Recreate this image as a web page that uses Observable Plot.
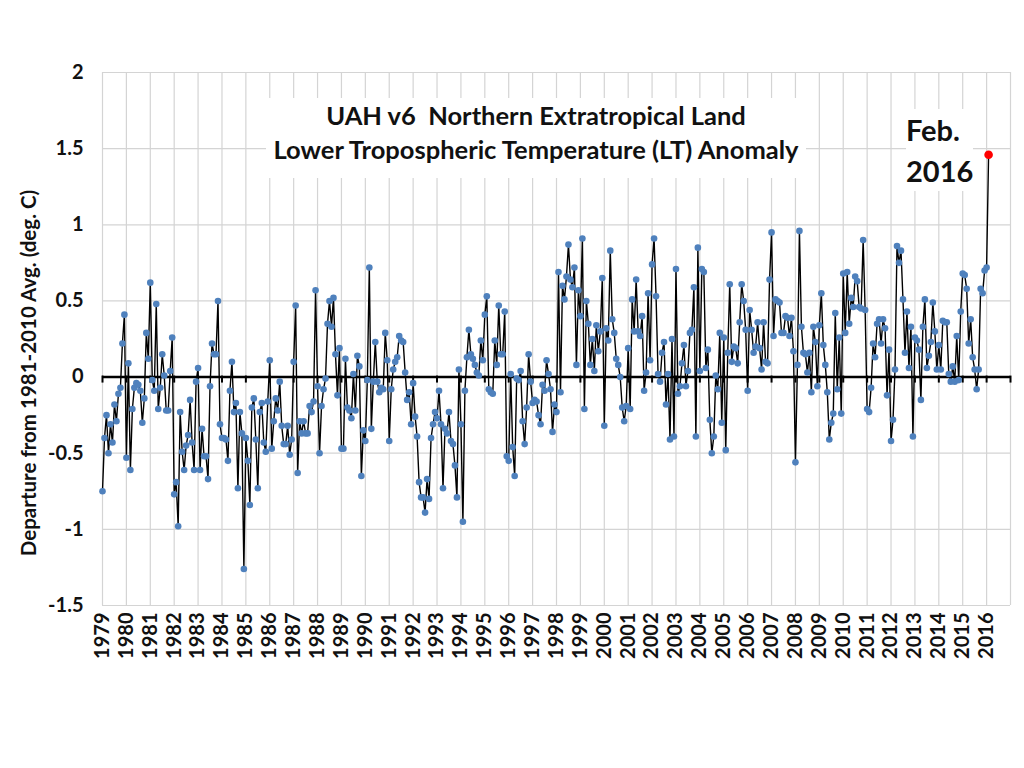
<!DOCTYPE html>
<html>
<head>
<meta charset="utf-8">
<script src="https://cdn.jsdelivr.net/npm/d3@7"></script>
<script src="https://cdn.jsdelivr.net/npm/@observablehq/plot@0.6"></script>
<style>
  html, body { margin: 0; padding: 0; background: #fff; }
  #wrap { position: relative; width: 1024px; height: 768px; overflow: hidden; font-family: Lato, "Open Sans", sans-serif; }
  #wrap svg { position: absolute; left: 0; top: 0; }
  .title { position: absolute; left: 266px; top: 98px; width: 540px; height: 80px; background: #fff;
           text-align: center; font-weight: 700; font-size: 25.5px; line-height: 34px; color: #111; }
  .note { position: absolute; left: 906px; top: 109px; background: #fff; font-weight: 700; font-size: 29px;
          line-height: 41px; color: #111; }
  .ylab { position: absolute; left: 28px; top: 373px; transform: translate(-50%, -50%) rotate(-90deg);
          white-space: nowrap; font-weight: 700; font-size: 20.5px; color: #111; }
</style>
</head>
<body>
<div id="wrap"></div>
<script>
// Monthly anomalies (deg. C), Jan 1979 .. Feb 2016
const anom1979_1984 = [
  -0.75, -0.40, -0.25, -0.50, -0.31, -0.43, -0.18, -0.29, -0.11, -0.07, 0.22, 0.41,
  -0.53, 0.09, -0.61, -0.21, -0.07, -0.04, -0.05, -0.09, -0.30, -0.14, 0.29, 0.12,
  0.62, -0.02, -0.09, 0.48, -0.21, -0.07, 0.15, 0.01, -0.22, -0.22, 0.04, 0.26,
  -0.77, -0.69, -0.98, -0.23, -0.49, -0.61, -0.45, -0.38, -0.15, -0.43, -0.61, -0.03,
  0.06, -0.61, -0.34, -0.52, -0.52, -0.67, -0.06, 0.22, 0.15, 0.15, 0.50, -0.31,
  -0.40, -0.40, -0.41, -0.55, -0.09, 0.10, -0.23, -0.17, -0.73, -0.23, -0.37, -1.26
];
const anom1985_1990 = [
  -0.40, -0.55, -0.84, -0.20, -0.14, -0.41, -0.73, -0.23, -0.17, -0.43, -0.49, -0.16,
  0.11, -0.47, -0.29, -0.14, -0.22, -0.03, -0.32, -0.44, -0.44, -0.32, -0.51, -0.41,
  0.10, 0.47, -0.63, -0.29, -0.37, -0.29, -0.37, -0.37, -0.19, -0.23, -0.16, 0.57,
  -0.06, -0.50, -0.19, -0.08, -0.01, 0.35, 0.50, 0.33, 0.52, 0.15, -0.12, 0.19,
  -0.47, -0.47, 0.12, -0.20, -0.22, -0.27, 0.02, -0.22, 0.14, 0.07, -0.65, -0.35,
  -0.42, -0.02, 0.72, -0.34, -0.03, 0.23, -0.03, -0.10, -0.07, -0.08, 0.29, 0.11
];
const anom1991_1997 = [
  -0.42, -0.08, 0.05, 0.10, 0.13, 0.27, 0.24, 0.23, 0.03, -0.15, -0.10, -0.31,
  -0.04, -0.26, -0.39, -0.69, -0.79, -0.79, -0.89, -0.67, -0.80, -0.40, -0.31, -0.23,
  -0.27, -0.09, -0.31, -0.73, -0.34, -0.37, -0.23, -0.42, -0.44, -0.58, -0.79, 0.05,
  -0.31, -0.95, -0.09, 0.13, 0.31, 0.15, 0.12, 0.08, 0.03, 0.01, 0.24, 0.11,
  0.41, 0.53, -0.08, -0.10, -0.11, 0.24, 0.08, 0.47, 0.15, 0.15, 0.43, -0.52,
  -0.55, 0.02, -0.46, -0.65, -0.01, -0.02, 0.04, -0.29, -0.44, -0.20, 0.15, -0.03,
  -0.17, -0.15, -0.16, -0.25, -0.31, -0.05, -0.09, 0.11, 0.02, -0.08, -0.36, -0.18
];
const anom1998_2004 = [
  -0.23, 0.69, -0.10, 0.60, 0.51, 0.66, 0.87, 0.64, 0.59, 0.72, 0.08, 0.57,
  0.40, 0.91, -0.21, 0.50, 0.35, 0.08, 0.25, 0.04, 0.34, 0.17, 0.30, 0.65,
  -0.32, 0.32, 0.24, 0.83, 0.38, 0.29, 0.12, 0.08, 0.00, -0.20, -0.29, -0.19,
  0.19, -0.21, 0.51, 0.30, 0.64, 0.30, 0.27, 0.40, -0.09, 0.03, 0.55, 0.11,
  0.74, 0.91, 0.53, 0.02, -0.03, 0.16, 0.23, -0.18, 0.02, -0.41, 0.25, -0.39,
  0.71, -0.11, -0.06, 0.09, 0.21, -0.06, 0.04, 0.29, 0.31, 0.59, -0.39, 0.85,
  0.04, 0.71, 0.69, 0.06, 0.18, -0.28, -0.50, -0.39, 0.01, -0.08, 0.29, -0.30
];
const anom2005_2010 = [
  0.26, -0.48, 0.16, 0.61, 0.10, 0.20, 0.19, 0.09, 0.36, 0.61, 0.50, 0.31,
  -0.09, 0.44, 0.31, 0.16, 0.20, 0.36, 0.19, 0.05, 0.36, 0.10, 0.09, 0.64,
  0.95, 0.27, 0.51, 0.50, 0.49, 0.29, 0.29, 0.40, 0.39, 0.27, 0.39, 0.17,
  -0.56, 0.08, 0.96, 0.33, 0.16, 0.15, 0.03, 0.16, -0.10, 0.33, 0.23, -0.06,
  0.34, 0.55, 0.21, 0.08, -0.10, -0.41, -0.30, -0.24, 0.42, -0.08, 0.26, -0.24,
  0.68, 0.29, 0.69, 0.35, 0.52, 0.46, 0.66, 0.63, 0.46, 0.45, 0.90, 0.44
];
const anom2011_2016 = [
  -0.21, -0.23, -0.07, 0.22, 0.13, 0.35, 0.38, 0.22, 0.38, 0.32, -0.12, 0.18,
  -0.42, -0.28, 0.05, 0.86, 0.75, 0.83, 0.51, 0.16, 0.43, 0.06, 0.33, -0.39,
  0.26, 0.24, 0.18, -0.15, 0.33, 0.51, 0.06, 0.14, 0.23, 0.49, 0.30, 0.05,
  0.21, 0.05, 0.37, 0.36, 0.36, 0.02, -0.03, 0.07, -0.03, 0.27, -0.02, 0.43,
  0.68, 0.67, 0.58, 0.22, 0.38, 0.13, 0.05, -0.08, 0.05, 0.58, 0.55, 0.70,
  0.72, 1.46
];

const yearLabels = ["1979","1980","1981","1982","1983","1984","1985","1986","1987","1988",
  "1989","1990","1991","1992","1993","1994","1995","1996","1997","1998","1999","2000",
  "2001","2002","2003","2004","2005","2006","2007","2008","2009","2010","2011","2012",
  "2013","2014","2015","2016"];
const yTicks = [2, 1.5, 1, 0.5, 0, -0.5, -1, -1.5];
const yTickLabels = ["2", "1.5", "1", "0.5", "0", "-0.5", "-1", "-1.5"];
const yAxisTitle = "Departure from 1981-2010 Avg. (deg. C)";
const titleLines = ["UAH v6\u00a0 Northern Extratropical Land", "Lower Tropospheric Temperature (LT) Anomaly"];
const noteLines = ["Feb.", "2016"];

const values = [].concat(anom1979_1984, anom1985_1990, anom1991_1997, anom1998_2004, anom2005_2010, anom2011_2016);
const data = values.map((v, i) => ({i, v}));
const last = data[data.length - 1];
const labelIdx = yearLabels.map((_, k) => k * 12);
const gridIdx = labelIdx.concat([yearLabels.length * 12]);

const chart = Plot.plot({
  width: 1024,
  height: 768,
  marginLeft: 102,
  marginRight: 14,
  marginTop: 72,
  marginBottom: 163,
  x: {domain: [0, yearLabels.length * 12], axis: null},
  y: {domain: [-1.5, 2], axis: null},
  style: {fontFamily: "Lato, 'Open Sans', sans-serif", background: "white", color: "#111"},
  marks: [
    Plot.ruleY(yTicks, {stroke: "#d4d4d4", strokeWidth: 1.2}),
    Plot.ruleX(gridIdx, {stroke: "#d4d4d4", strokeWidth: 1.2}),
    Plot.ruleY([0], {stroke: "black", strokeWidth: 2.5}),
    Plot.ruleX(gridIdx, {y1: 0, y2: 0, insetTop: -1, insetBottom: -6, stroke: "black", strokeWidth: 2}),
    Plot.line(data, {x: "i", y: "v", stroke: "black", strokeWidth: 1.4}),
    Plot.dot(data.slice(0, -1), {x: "i", y: "v", r: 3.3, fill: "#4F81BD", stroke: "none"}),
    Plot.dot([last], {x: "i", y: "v", r: 4.3, fill: "#FF0000", stroke: "none"}),
    Plot.axisY({ticks: yTicks, tickSize: 0, tickPadding: 19, tickFormat: (d) => yTickLabels[yTicks.indexOf(d)],
                fontSize: 20, fontWeight: "bold", label: null}),
    Plot.axisX({ticks: labelIdx, tickSize: 0, tickPadding: 7, tickRotate: -90,
                tickFormat: (d) => yearLabels[labelIdx.indexOf(d)], fontSize: 20, fontWeight: "bold", label: null})
  ]
});

const wrap = document.getElementById("wrap");
wrap.appendChild(chart);
const yl = document.createElement("div");
yl.className = "ylab";
yl.textContent = yAxisTitle;
wrap.appendChild(yl);
const t = document.createElement("div");
t.className = "title";
t.innerHTML = titleLines.join("<br>");
wrap.appendChild(t);
const n = document.createElement("div");
n.className = "note";
n.innerHTML = noteLines.join("<br>");
wrap.appendChild(n);
</script>
</body>
</html>
